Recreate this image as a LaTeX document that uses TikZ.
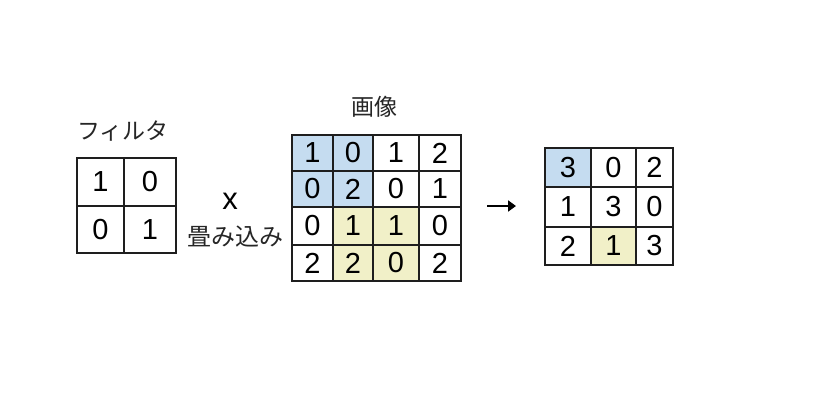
\documentclass[tikz,border=0pt]{standalone}
\usepackage{fontspec}
\usetikzlibrary{arrows.meta}
\setmainfont{Liberation Sans}
\newfontfamily\jpfont{Noto Sans CJK JP}
\definecolor{cblue}{RGB}{197,220,240}
\definecolor{cyellow}{RGB}{241,240,200}
\definecolor{gline}{RGB}{30,30,30}
\tikzset{
  cellbox/.style={draw=gline, line width=2pt, inner sep=0pt, outer sep=0pt,
    font=\fontsize{29}{29}\selectfont, text=black},
  jplabel/.style={inner sep=0pt, font=\jpfont\fontsize{23}{23}\selectfont, text=black!85},
}
\newcommand\gcell[7]{%
  \node[cellbox, fill=#6, minimum width=#4pt-#2pt, minimum height=#5pt-#3pt]
    (#1) at ({(#2+#4)/2},{(#3+#5)/2}) {#7};}
\begin{document}
\begin{tikzpicture}[x=1pt,y=-1pt]
\useasboundingbox[fill=white] (0,0) rectangle (819,400);
% filter
\gcell{f11}{77}{158}{124}{206}{white}{1}
\gcell{f12}{124}{158}{176}{206}{white}{0}
\gcell{f21}{77}{206}{124}{253}{white}{0}
\gcell{f22}{124}{206}{176}{253}{white}{1}
\node[jplabel] (flabel) at (123,131) {フィルタ};
% operator
\node[inner sep=0pt, font=\fontsize{31}{31}\selectfont] (times) at (230,201) {x};
\node[jplabel, font=\jpfont\fontsize{24}{24}\selectfont] (conv) at (235,237) {畳み込み};
% image
\gcell{i11}{292}{135}{333}{171}{cblue}{1}
\gcell{i12}{333}{135}{373}{171}{cblue}{0}
\gcell{i13}{373}{135}{419}{171}{white}{1}
\gcell{i14}{419}{135}{461}{171}{white}{2}
\gcell{i21}{292}{171}{333}{207}{cblue}{0}
\gcell{i22}{333}{171}{373}{207}{cblue}{2}
\gcell{i23}{373}{171}{419}{207}{white}{0}
\gcell{i24}{419}{171}{461}{207}{white}{1}
\gcell{i31}{292}{207}{333}{245}{white}{0}
\gcell{i32}{333}{207}{373}{245}{cyellow}{1}
\gcell{i33}{373}{207}{419}{245}{cyellow}{1}
\gcell{i34}{419}{207}{461}{245}{white}{0}
\gcell{i41}{292}{245}{333}{281}{white}{2}
\gcell{i42}{333}{245}{373}{281}{cyellow}{2}
\gcell{i43}{373}{245}{419}{281}{cyellow}{0}
\gcell{i44}{419}{245}{461}{281}{white}{2}
\node[jplabel] (ilabel) at (374,107) {画像};
% arrow
\coordinate (arrs) at (487,206);
\coordinate (arre) at (516,206);
\draw[line width=2.4pt, -{Triangle[length=8pt,width=11pt]}] (arrs) -- (arre);
% result
\gcell{r11}{545}{148}{591}{187}{cblue}{3}
\gcell{r12}{591}{148}{636}{187}{white}{0}
\gcell{r13}{636}{148}{673}{187}{white}{2}
\gcell{r21}{545}{187}{591}{227}{white}{1}
\gcell{r22}{591}{187}{636}{227}{white}{3}
\gcell{r23}{636}{187}{673}{227}{white}{0}
\gcell{r31}{545}{227}{591}{265}{white}{2}
\gcell{r32}{591}{227}{636}{265}{cyellow}{1}
\gcell{r33}{636}{227}{673}{265}{white}{3}
\end{tikzpicture}
\end{document}
